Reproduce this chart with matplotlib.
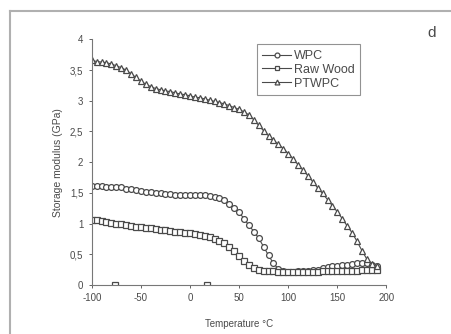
import matplotlib
matplotlib.use("Agg")
import matplotlib.pyplot as plt
from matplotlib.lines import Line2D

# temperature grid (deg C)
temp = [-100, -95, -90, -85, -80, -75, -70, -65, -60, -55, -50, -45, -40, -35, -30,
        -25, -20, -15, -10, -5, 0, 5, 10, 15, 20, 25, 30, 35, 40, 45, 50, 55, 60, 65,
        70, 75, 80, 85, 90, 95, 100, 105, 110, 115, 120, 125, 130, 135, 140, 145,
        150, 155, 160, 165, 170, 175, 180, 185, 190]

wpc = [1.61, 1.61, 1.61, 1.60, 1.60, 1.60, 1.59, 1.57, 1.56, 1.54, 1.53, 1.52, 1.51,
       1.50, 1.49, 1.48, 1.48, 1.47, 1.47, 1.47, 1.47, 1.46, 1.46, 1.46, 1.45, 1.44,
       1.42, 1.38, 1.32, 1.25, 1.18, 1.08, 0.97, 0.87, 0.76, 0.62, 0.48, 0.35, 0.26,
       0.22, 0.21, 0.21, 0.22, 0.22, 0.23, 0.24, 0.25, 0.27, 0.29, 0.30, 0.31, 0.32,
       0.33, 0.34, 0.35, 0.35, 0.35, 0.33, 0.30]

raw_wood = [1.06, 1.05, 1.04, 1.03, 1.01, 1.00, 0.99, 0.97, 0.96, 0.95, 0.94, 0.93,
            0.92, 0.91, 0.90, 0.89, 0.88, 0.87, 0.86, 0.85, 0.84, 0.83, 0.81, 0.80,
            0.78, 0.75, 0.72, 0.68, 0.62, 0.55, 0.47, 0.39, 0.32, 0.27, 0.24, 0.23,
            0.22, 0.22, 0.21, 0.21, 0.21, 0.21, 0.21, 0.21, 0.21, 0.21, 0.21, 0.22,
            0.22, 0.22, 0.22, 0.22, 0.23, 0.23, 0.23, 0.24, 0.24, 0.25, 0.25]

ptwpc = [3.66, 3.64, 3.63, 3.62, 3.60, 3.57, 3.54, 3.50, 3.44, 3.38, 3.32, 3.27, 3.23,
         3.20, 3.18, 3.16, 3.15, 3.13, 3.11, 3.10, 3.08, 3.06, 3.05, 3.03, 3.01, 2.99,
         2.97, 2.95, 2.92, 2.89, 2.86, 2.82, 2.77, 2.69, 2.60, 2.51, 2.43, 2.36, 2.29,
         2.22, 2.14, 2.05, 1.96, 1.87, 1.78, 1.68, 1.58, 1.49, 1.39, 1.29, 1.19, 1.08,
         0.96, 0.85, 0.71, 0.56, 0.42, 0.34, 0.30]

# stray raw wood points sitting on the x axis
stray_x = [-76, 17]
stray_y = [0, 0]

xticks = [-100, -50, 0, 50, 100, 150, 200]
yticks = [0, 0.5, 1, 1.5, 2, 2.5, 3, 3.5, 4]
ytick_labels = ["0", "0,5", "1", "1,5", "2", "2,5", "3", "3,5", "4"]

ink = "#4a4a4a"
plt.rcParams["font.family"] = ["Liberation Sans", "DejaVu Sans"]
plt.rcParams["axes.unicode_minus"] = False

fig = plt.figure(figsize=(4.52, 3.34), dpi=100)
ax = fig.add_axes([0.203, 0.147, 0.652, 0.735])

style = dict(color=ink, linewidth=0.8, markersize=4.2, markerfacecolor="white",
             markeredgecolor=ink, markeredgewidth=0.9)
ax.plot(temp, wpc, marker="o", label="WPC", **style)
ax.plot(temp, raw_wood, marker="s", label="Raw Wood", **style)
ax.plot(temp, ptwpc, marker="^", label="PTWPC", **style)
ax.plot(stray_x, stray_y, linestyle="none", marker="s",
        **{k: v for k, v in style.items() if k != "linewidth"})

ax.set_xlim(-100, 200)
ax.set_ylim(0, 4)
ax.set_xticks(xticks)
ax.set_yticks(yticks)
ax.set_yticklabels(ytick_labels)
ax.tick_params(labelsize=7, colors=ink, length=2.5, width=0.6)
for s in ["top", "right"]:
    ax.spines[s].set_visible(False)
for s in ["left", "bottom"]:
    ax.spines[s].set_color("#777777")
    ax.spines[s].set_linewidth(0.8)

ax.set_xlabel("Temperature °C", fontsize=7, color=ink, labelpad=11)
ax.set_ylabel("Storage modulus (GPa)", fontsize=7.5, color=ink, labelpad=5)

handles = [Line2D([], [], marker=m, **dict(style, markersize=3.5)) for m in ["o", "s", "^"]]
leg = ax.legend(handles, ["WPC", "Raw Wood", "PTWPC"], loc="upper left",
                bbox_to_anchor=(0.56, 0.98), fontsize=9, frameon=True, fancybox=False,
                handlelength=2.3, handletextpad=0.2, borderpad=0.45, labelspacing=0.15,
                borderaxespad=0)
leg.get_frame().set_edgecolor("#777777")
leg.get_frame().set_linewidth(0.8)
for t in leg.get_texts():
    t.set_color(ink)

fig.text(0.956, 0.9, "d", fontsize=11, color=ink, ha="center", va="center")

# scan frame (top and left edges)
fig.add_artist(Line2D([0.022, 1.0], [0.966, 0.966], color="#b0b0b0", linewidth=1.5))
fig.add_artist(Line2D([0.022, 0.022], [0.0, 0.966], color="#b0b0b0", linewidth=1.5))

fig.savefig("out.png", dpi=100)
